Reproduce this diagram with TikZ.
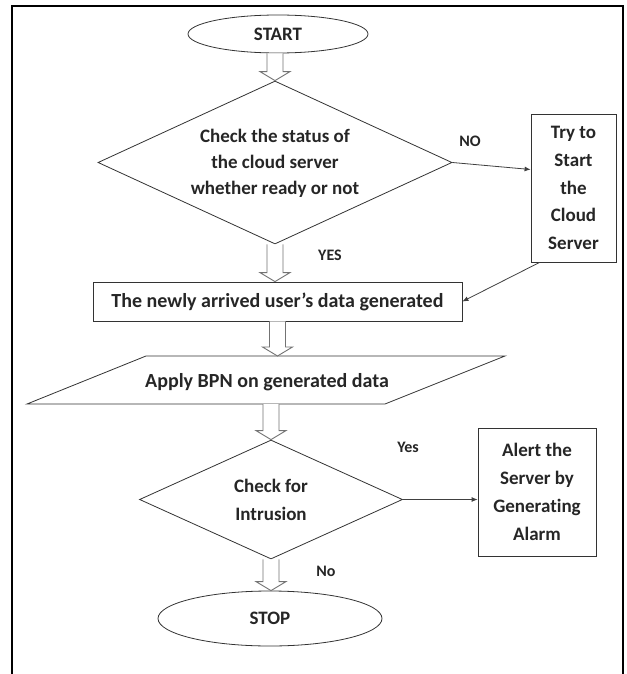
\documentclass[tikz,border=0pt]{standalone}
\usepackage{fontspec}
\setmainfont{Carlito}[Ligatures=NoCommon]
\usetikzlibrary{shapes.geometric,arrows.meta,calc}

\tikzset{
  lbl/.style={font=\bfseries\fontsize{19}{26}\selectfont, align=center, inner sep=0pt, text=black!85},
  lblb/.style={font=\bfseries\fontsize{19}{28}\selectfont, align=center, inner sep=0pt, text=black!85},
  tag/.style={font=\bfseries\fontsize{16}{18}\selectfont, inner sep=0pt, text=black!85},
  shp/.style={draw=black!80, line width=0.8pt},
  blk/.style={draw=black!55, line width=0.9pt, fill=white},
  thinarr/.style={draw=black!75, line width=0.8pt, -{Latex[length=6pt,width=5pt]}},
  frameline/.style={draw=black, line width=1.4pt},
}

\newcommand{\blockarr}[2]{%
  \draw[blk] let \p1=(#1), \p2=(#2) in
    ({\x1-8pt},\y1) -- ({\x1-8pt},{\y2+9pt}) -- ({\x1-15pt},{\y2+9pt}) -- (\x1,\y2)
    -- ({\x1+15pt},{\y2+9pt}) -- ({\x1+8pt},{\y2+9pt}) -- ({\x1+8pt},\y1);}

\begin{document}
\begin{tikzpicture}[x=1pt,y=-1pt]
\useasboundingbox (0,0) rectangle (626,674);
\fill[white] (0,0) rectangle (626,674);

% outer frame (open at the bottom)
\draw[frameline] (12,674) -- (12,6) -- (623,6) -- (623,674);

% nodes
\node[ellipse, shp, minimum width=180pt, minimum height=38pt, lbl] (start) at (278,34) {START};

\node[diamond, shp, minimum width=354pt, minimum height=163pt, inner sep=0pt] (d1) at (275,162.5) {};
\node[lbl] (d1t) at (275,163) {Check the status of\\the cloud server\\whether ready or not};

\node[draw, shp, minimum width=85pt, minimum height=148pt, font=\bfseries\fontsize{19}{27.7}\selectfont, align=center, inner sep=0pt, text=black!85] (try) at (573.5,188) {Try to\\Start\\the\\Cloud\\Server};

\node[draw, shp, minimum width=369pt, minimum height=39pt, lbl, font=\bfseries\fontsize{20}{26}\selectfont] (r1) at (277.5,301.5) {The newly arrived user’s data generated};

\draw[shp] (146,356) coordinate (pA) -- (505,356) coordinate (pB) -- (385,404) coordinate (pC) -- (27,404) coordinate (pD) -- cycle;
\node[lbl, font=\bfseries\fontsize{20}{26}\selectfont] (p1) at (267,382) {Apply BPN on generated data};

\node[diamond, shp, minimum width=263pt, minimum height=119pt, inner sep=0pt] (d2) at (271,499.5) {};
\node[lblb] (d2t) at (271,500) {Check for\\Intrusion};

\node[draw, shp, minimum width=118pt, minimum height=128pt, lblb] (alert) at (537,492) {Alert the\\Server by\\Generating\\Alarm};

\node[ellipse, shp, minimum width=224pt, minimum height=55pt, lbl] (stop) at (270,618.5) {STOP};

% labels
\node[tag] (lno) at (470,141) {NO};
\node[tag] (lyes) at (330,255) {YES};
\node[tag] (lyes2) at (408,447) {Yes};
\node[tag] (lno2) at (326,571) {No};

% block arrows
\blockarr{d1.north |- start.south}{d1.north}
\blockarr{d1.south}{d1.south |- r1.north}
\blockarr{r1.south}{r1.south |- pA}
\blockarr{d2.north |- pC}{d2.north}
\blockarr{d2.south}{d2.south |- stop.north}

% thin arrows
\draw[thinarr] (d1.east) -- ([yshift=-7pt]d1.east -| try.west);
\draw[thinarr] ([xshift=9pt]try.south west) -- (r1.east);
\draw[thinarr] (d2.east) -- (d2.east -| alert.west);
\end{tikzpicture}
\end{document}
